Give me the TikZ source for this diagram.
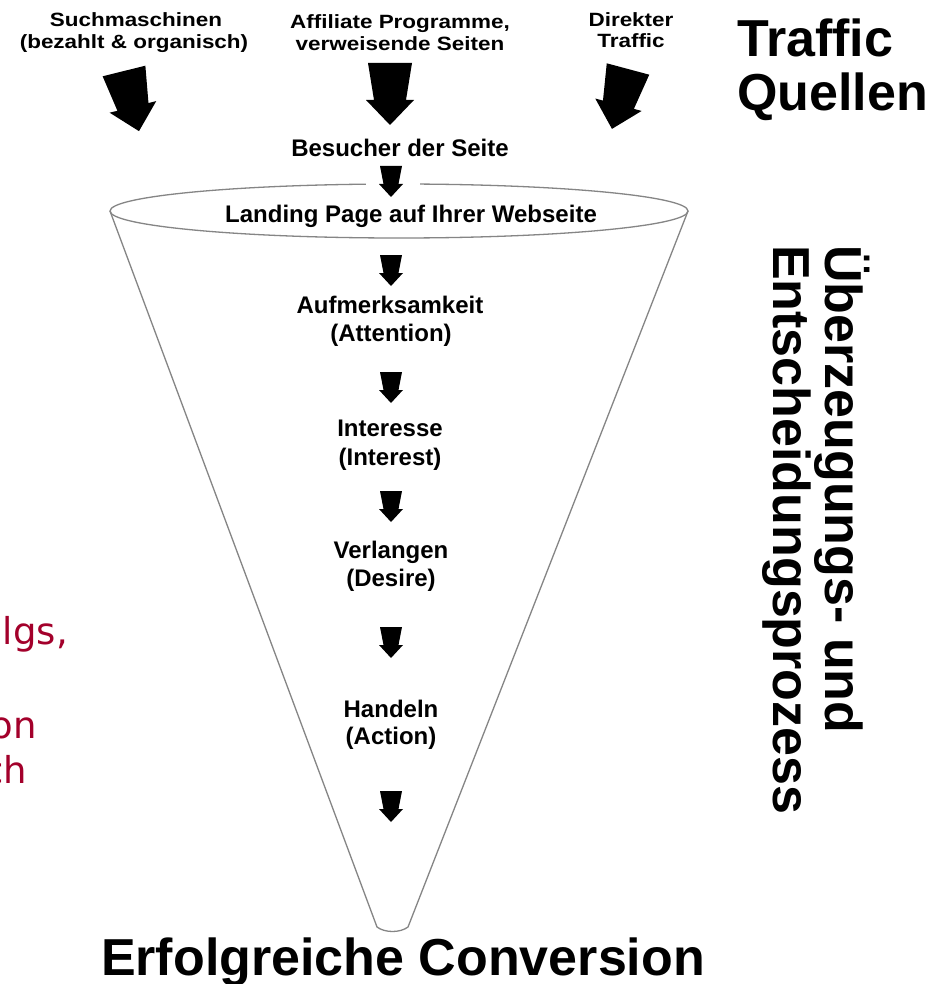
\documentclass[tikz,border=0pt]{standalone}
\usepackage{fontspec}
\setmainfont{Liberation Sans}
\newfontfamily\topfont{Liberation Sans}[FakeStretch=1.17]
\newfontfamily\redfont{DejaVu Sans}
\definecolor{funnelgray}{HTML}{858585}
\definecolor{redtext}{HTML}{A3002B}
\tikzset{
  smallarrow/.pic={\fill (-11,0) -- (11,0) -- (7.5,18) -- (12,18) -- (0,31) -- (-12,18) -- (-7.5,18) -- cycle;},
  bigarrow/.pic={\fill (-22,0) -- (22,0) -- (16,37) -- (24,37) -- (0,62) -- (-24,37) -- (-16,37) -- cycle;}
}
\begin{document}
\begin{tikzpicture}[x=1pt,y=-1pt,
  toplab/.style={inner sep=0pt, anchor=base, font=\topfont\bfseries\fontsize{19.2}{22}\selectfont},
  midlab/.style={inner sep=0pt, anchor=base, font=\bfseries\fontsize{24}{28}\selectfont},
  biglab/.style={inner sep=0pt, font=\bfseries\fontsize{52}{55}\selectfont},
  redlab/.style={inner sep=0pt, anchor=base east, text=redtext, font=\redfont\fontsize{37}{44}\selectfont},
  funnel/.style={draw=funnelgray, line width=1.3pt}]
\fill[white] (0,0) rectangle (943,984);
\useasboundingbox (0,0) rectangle (943,984);

% traffic sources
\node[toplab] (s1) at (136,27) {Suchmaschinen};
\node[toplab] (s2) at (134,49) {(bezahlt \& organisch)};
\node[toplab] (a1) at (400,29) {Affiliate Programme,};
\node[toplab] (a2) at (400,51) {verweisende Seiten};
\node[toplab] (d1) at (631,27) {Direkter};
\node[toplab] (d2) at (631,48) {Traffic};
\node[biglab, anchor=base west] (tq1) at (737,57) {Traffic};
\node[biglab, anchor=base west] (tq2) at (737,111) {Quellen};

\pic[rotate=14] at (124,71) {bigarrow};
\pic at (390,63) {bigarrow};
\pic[rotate=-15] at (628,69) {bigarrow};

\node[midlab] (bes) at (400,157) {Besucher der Seite};

% funnel
\coordinate (L) at (110,211);
\coordinate (R) at (688,211);
\coordinate (BL) at (377,927);
\coordinate (BR) at (408,927);
\draw[funnel] (399,211) ellipse [x radius=289, y radius=27];
\draw[funnel] (L) -- (BL) .. controls (385,933) and (400,933) .. (BR) -- (R);
\fill[white] (366,178) rectangle (420,195);
\pic at (391,166) {smallarrow};

\node[midlab] (land) at (411,223) {Landing Page auf Ihrer Webseite};

\pic at (391,255) {smallarrow};
\node[midlab] (att1) at (390,313) {Aufmerksamkeit};
\node[midlab] (att2) at (391,341) {(Attention)};
\pic at (391,372) {smallarrow};
\node[midlab] (int1) at (390,436) {Interesse};
\node[midlab] (int2) at (390,465) {(Interest)};
\pic at (391,491) {smallarrow};
\node[midlab] (des1) at (391,558) {Verlangen};
\node[midlab] (des2) at (391,586) {(Desire)};
\pic at (391,627) {smallarrow};
\node[midlab] (act1) at (391,717) {Handeln};
\node[midlab] (act2) at (391,744) {(Action)};
\pic at (391,791) {smallarrow};

\node[biglab, anchor=base] (conv) at (403,975) {Erfolgreiche Conversion};

% rotated side title
\node[biglab, anchor=base west, rotate=-90] (ue1) at (825,245) {Überzeugungs- und};
\node[biglab, anchor=base west, rotate=-90] (ue2) at (773,245) {Entscheidungsprozess};

% red text cut off at the left edge, as in the reference
\node[redlab] (r1) at (68,644) {lgs,};
\node[redlab] (r2) at (37,738) {on};
\node[redlab] (r3) at (27,783) {ch};
\end{tikzpicture}
\end{document}
